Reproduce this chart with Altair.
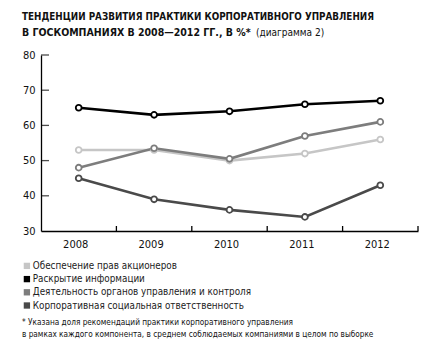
import altair as alt
import pandas as pd

years = ["2008", "2009", "2010", "2011", "2012"]
series_names = [
    "Обеспечение прав акционеров",
    "Раскрытие информации",
    "Деятельность органов управления и контроля",
    "Корпоративная социальная ответственность",
]
series_colors = ["#c6c6c6", "#000000", "#7d7d7d", "#4a4a4a"]
shareholders = [53, 53, 50, 52, 56]
disclosure = [65, 63, 64, 66, 67]
boards = [48, 53.5, 50.5, 57, 61]
csr = [45, 39, 36, 34, 43]
y_ticks = [40, 50, 60, 70, 80]
y_labels = [30, 40, 50, 60, 70, 80]

title_line1 = "ТЕНДЕНЦИИ РАЗВИТИЯ ПРАКТИКИ КОРПОРАТИВНОГО УПРАВЛЕНИЯ"
title_line2 = "В ГОСКОМПАНИЯХ В 2008—2012 ГГ., В %*"
title_extra = "(диаграмма 2)"
footnote1 = "* Указана доля рекомендаций практики корпоративного управления"
footnote2 = "в рамках каждого компонента, в среднем соблюдаемых компаниями в целом по выборке"

rows = []
for name, vals in zip(series_names, [shareholders, disclosure, boards, csr]):
    for y, v in zip(years, vals):
        rows.append({"year": y, "value": v, "series": name})
df = pd.DataFrame(rows)

FONT = "DejaVu Sans Condensed"
W, H = 377, 176

xscale = alt.Scale(domain=years, paddingInner=0, paddingOuter=0)
xaxis = alt.Axis(title=None, ticks=False, domain=True, domainColor="#000", domainWidth=1.3,
                 labelAngle=0, labelFont=FONT, labelFontSize=11, labelColor="#111",
                 labelPadding=7, labelOffset=-3)
xenc = alt.X("year:O", sort=years, scale=xscale, axis=xaxis)
yscale = alt.Scale(domain=[30, 80], nice=False, zero=False)
yaxis = alt.Axis(title=None, ticks=False, grid=False, values=y_labels,
                 labelOverlap=False, labelFlush=False,
                 domainColor="#000", domainWidth=1.3, labelFont=FONT, labelFontSize=11,
                 labelColor="#111", labelPadding=6)
yenc = alt.Y("value:Q", scale=yscale, axis=yaxis)
cscale = alt.Scale(domain=series_names, range=series_colors)

swatches = alt.Chart(df).mark_square(filled=True, size=0, opacity=1).encode(
    x=xenc, y=yenc,
    color=alt.Color("series:N", sort=series_names, scale=cscale,
                    legend=alt.Legend(title=None, orient="none", legendX=-19, legendY=206,
                                      symbolType="square", symbolSize=40, symbolStrokeWidth=0,
                                      symbolOpacity=1, labelFont=FONT, labelFontSize=9.8,
                                      labelColor="#222", rowPadding=2.2, labelOffset=1,
                                      labelLimit=0)))
lines = alt.Chart(df).mark_line(strokeWidth=2.6).encode(
    x=xenc, y=yenc, color=alt.Color("series:N", scale=cscale, legend=None), detail="series:N")
points = alt.Chart(df).mark_point(filled=False, fill="white", size=34, strokeWidth=1.8, opacity=1).encode(
    x=xenc, y=yenc, color=alt.Color("series:N", scale=cscale, legend=None))

ytick_df = pd.DataFrame({"value": y_ticks})
yticks = alt.Chart(ytick_df).mark_tick(color="#000", orient="horizontal", size=8, thickness=1.3).encode(
    y=alt.Y("value:Q", scale=yscale, axis=yaxis), x=alt.value(4))
xtick_df = pd.DataFrame({"year": years[1:]})
xticks = alt.Chart(xtick_df).mark_rule(color="#000", strokeWidth=1.3).encode(
    x=alt.X("year:O", sort=years, scale=xscale, bandPosition=0, axis=xaxis),
    y=alt.value(H - 5), y2=alt.value(H))
xend = alt.Chart(pd.DataFrame({"year": [years[-1]]})).mark_rule(color="#000", strokeWidth=1.3).encode(
    x=alt.X("year:O", sort=years, scale=xscale, bandPosition=1, axis=xaxis),
    y=alt.value(H - 5), y2=alt.value(H))

text_specs = [
    (title_line1, -19, -35, "bold", 9.8),
    (title_line2, -19, -19, "bold", 10.5),
    (title_extra, 215, -19, "normal", 10),
    (footnote1, -19, 270, "normal", 8.2),
    (footnote2, -19, 282, "normal", 8.2),
]
texts = []
for t, x, y, w, s in text_specs:
    texts.append(alt.Chart(pd.DataFrame({"t": [t]})).mark_text(
        align="left", baseline="alphabetic", font=FONT, fontSize=s, fontWeight=w,
        color="#111").encode(text="t:N", x=alt.value(x), y=alt.value(y)))

chart = alt.layer(swatches, lines, points, yticks, xticks, xend, *texts).properties(
    width=W, height=H,
    autosize=alt.AutoSizeParams(type="none"),
    padding={"left": 41, "top": 55, "right": 12, "bottom": 121},
    background="white",
).configure_view(stroke=None)

chart.save("out.html", embed_options={"renderer": "svg", "actions": False})
